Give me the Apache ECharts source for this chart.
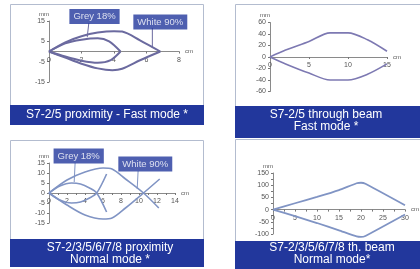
<!DOCTYPE html>
<html>
<head>
<meta charset="utf-8">
<script src="https://cdn.jsdelivr.net/npm/echarts@6.0.0/dist/echarts.min.js"></script>
<style>
  html, body { margin: 0; padding: 0; background: #fff; }
  #main { width: 420px; height: 269px; }
</style>
</head>
<body>
<div id="main"></div>
<script>
// Panel 1: S7-2/5 proximity, fast mode (x in cm, y in mm)
const p1GreyUpper  = [[0,0],[1,4],[2,5.8],[3,6.5],[3.7,5],[4.4,0]];
const p1GreyLower  = [[0,0],[1,-2.5],[2,-4.5],[3,-5.5],[3.8,-4.2],[4.4,0]];
const p1WhiteUpper = [[0,0],[1,4.5],[2,7.5],[3,9.3],[4,10],[4.5,9.8],[5.6,5.5],[6.85,0]];
const p1WhiteLower = [[0,0],[1,-3],[2,-6],[3,-8.3],[3.9,-9.2],[4.5,-8.5],[5.6,-4.3],[6.85,0]];
const p1Notes   = ['Grey 18%', 'White 90%'];
const p1NoteAt  = [[2.8, 17.2], [6.85, 14.5]];
const p1Leaders = [[[2.45, 14], [2.35, 7]], [[6.36, 11.6], [6.36, 2]]];

// Panel 2: S7-2/5 through beam, fast mode
const p2Upper = [[0,0],[2,12],[5,27],[7.7,42],[10,42],[12.5,30],[15,10]];
const p2Lower = [[0,0],[2,-12],[5,-28],[7.7,-40],[10,-40],[12.5,-30],[15,-12]];

// Panel 3: S7-2/3/5/6/7/8 proximity, normal mode
const p3GreyUpper  = [[0,0],[1.2,3.5],[2.5,5],[3.5,4.5],[4.5,2.5],[5.3,0],[6.4,-9.5]];
const p3GreyLower  = [[0,0],[1.2,-3.5],[2.5,-5],[3.5,-4.5],[4.5,-2.5],[5.3,0],[6.4,9.5]];
const p3WhiteUpper = [[0,0],[2,6.5],[4,10.5],[6,12.5],[7,12],[8.5,7],[10.5,0],[12.2,-7.5]];
const p3WhiteLower = [[0,0],[2,-6],[4,-11],[6,-13],[7,-12.5],[8.5,-7.5],[10.5,0],[12.3,7]];
const p3Notes   = ['Grey 18%', 'White 90%'];
const p3NoteAt  = [[3.3, 18.5], [10.7, 14.5]];
const p3Leaders = [[[2.9, 15], [2.8, 5.5]], [[9.9, 11], [9.8, 2]]];

// Panel 4: S7-2/3/5/6/7/8 through beam, normal mode
const p4Upper = [[0,0],[5,26],[10,52],[15,80],[19,108],[20,110],[21,106],[30,18]];
const p4Lower = [[0,0],[5,-27],[10,-55],[15,-85],[19,-110],[20,-112],[21,-108],[30,-20]];

// Captions
const captions = [
  'S7-2/5 proximity - Fast mode *',
  'S7-2/5 through beam\nFast mode *',
  'S7-2/3/5/6/7/8 proximity\nNormal mode *',
  'S7-2/3/5/6/7/8 th. beam\nNormal mode*'
];

const CAP_BLUE = '#22379c';
const FONT = 'Liberation Sans, Arial, sans-serif';

// x axis drawn through y = 0: offset (px) lifts the axis from the grid bottom
function xAx(g, max, interval, minor, offset) {
  return {
    type: 'value', gridIndex: g, min: 0, max: max, interval: interval,
    position: 'bottom', offset: offset,
    name: 'cm', nameLocation: 'end', nameGap: 6,
    nameTextStyle: { fontSize: 6, color: '#555', fontFamily: FONT },
    axisLine: { onZero: false, lineStyle: { color: '#8a8a8a', width: 1 } },
    axisTick: { show: true, length: 2, lineStyle: { color: '#777' } },
    minorTick: { show: minor, splitNumber: 2, length: 2, lineStyle: { color: '#777' } },
    axisLabel: { fontSize: 7, color: '#555', margin: 5, fontFamily: FONT },
    splitLine: { show: false }
  };
}

function yAx(g, min, max, interval, minor) {
  return {
    type: 'value', gridIndex: g, min: min, max: max, interval: interval,
    name: 'mm', nameLocation: 'end', nameGap: 4,
    nameTextStyle: { fontSize: 6, color: '#555', fontFamily: FONT, align: 'right' },
    axisLine: { show: true, onZero: false, lineStyle: { color: '#8a8a8a', width: 1 } },
    axisTick: { show: true, length: 2, lineStyle: { color: '#777' } },
    minorTick: { show: minor, splitNumber: 2, length: 2, lineStyle: { color: '#777' } },
    axisLabel: { fontSize: 7, color: '#555', margin: 4, fontFamily: FONT },
    splitLine: { show: false }
  };
}

function curve(g, data, color, width, smooth) {
  return {
    type: 'line', xAxisIndex: g, yAxisIndex: g, data: data,
    symbol: 'none', smooth: smooth, clip: false, silent: true,
    lineStyle: { color: color, width: width }, z: 3
  };
}

function notes(g, names, at) {
  return {
    type: 'scatter', xAxisIndex: g, yAxisIndex: g, symbolSize: 0, clip: false, z: 6,
    data: names.map((n, i) => ({ name: n, value: at[i] })),
    label: {
      show: true, position: 'inside', formatter: '{b}',
      color: '#fff', fontSize: 9.5, fontFamily: FONT,
      backgroundColor: CAP_BLUE, padding: [3, 4, 2, 4]
    }
  };
}

function leaders(g, segs, color) {
  return segs.map(s => ({
    type: 'line', xAxisIndex: g, yAxisIndex: g, data: s, symbol: 'none',
    clip: false, lineStyle: { color: color, width: 1 }, z: 4
  }));
}

const c1 = '#6b6a9f';
const c2 = '#7d79b2';
const c3 = '#8094c4';

const option = {
  backgroundColor: '#fff',
  animation: false,
  grid: [
    { left: 49, top: 21, width: 130, height: 61 },
    { left: 270, top: 22.5, width: 117, height: 69 },
    { left: 49, top: 163, width: 126, height: 60 },
    { left: 273, top: 173, width: 134, height: 61 }
  ],
  xAxis: [
    xAx(0, 8, 2, false, -30.5),
    xAx(1, 15, 5, false, -34.5),
    xAx(2, 14, 2, true, -30),
    xAx(3, 30, 5, true, -24.4)
  ],
  yAxis: [
    yAx(0, -15, 15, 10, false),
    yAx(1, -60, 60, 20, false),
    yAx(2, -15, 15, 5, false),
    yAx(3, -100, 150, 50, true)
  ],
  series: [
    curve(0, p1GreyUpper, c1, 2, 0.3), curve(0, p1GreyLower, c1, 2, 0.3),
    curve(0, p1WhiteUpper, c1, 2, 0.3), curve(0, p1WhiteLower, c1, 2, 0.3),
    ...leaders(0, p1Leaders, c1), notes(0, p1Notes, p1NoteAt),
    curve(1, p2Upper, c2, 1.6, 0.3), curve(1, p2Lower, c2, 1.6, 0.3),
    curve(2, p3GreyUpper, c3, 1.6, 0.3), curve(2, p3GreyLower, c3, 1.6, 0.3),
    curve(2, p3WhiteUpper, c3, 1.6, 0.3), curve(2, p3WhiteLower, c3, 1.6, 0.3),
    ...leaders(2, p3Leaders, c3), notes(2, p3Notes, p3NoteAt),
    curve(3, p4Upper, c3, 1.8, 0.15), curve(3, p4Lower, c3, 1.8, 0.15)
  ],
  graphic: [
    // panel frames
    { type: 'rect', z: 0, shape: { x: 10.5, y: 4.5, width: 193, height: 120 }, style: { fill: 'none', stroke: '#b3bccf', lineWidth: 1 } },
    { type: 'rect', z: 0, shape: { x: 235.5, y: 4.5, width: 200, height: 133 }, style: { fill: 'none', stroke: '#b3bccf', lineWidth: 1 } },
    { type: 'rect', z: 0, shape: { x: 10.5, y: 140.5, width: 193, height: 126 }, style: { fill: 'none', stroke: '#b3bccf', lineWidth: 1 } },
    { type: 'rect', z: 0, shape: { x: 235.5, y: 139.5, width: 200, height: 140 }, style: { fill: 'none', stroke: '#b3bccf', lineWidth: 1 } },
    // caption bars
    { type: 'rect', z: 20, shape: { x: 10, y: 105, width: 194, height: 20 }, style: { fill: CAP_BLUE } },
    { type: 'rect', z: 20, shape: { x: 235, y: 106, width: 185, height: 32 }, style: { fill: CAP_BLUE } },
    { type: 'rect', z: 20, shape: { x: 10, y: 239, width: 194, height: 28 }, style: { fill: CAP_BLUE } },
    { type: 'rect', z: 20, shape: { x: 235, y: 241, width: 185, height: 28 }, style: { fill: CAP_BLUE } },
    { type: 'text', z: 21, x: 107, y: 115, style: { text: captions[0], fill: '#fff', font: '12px ' + FONT, textAlign: 'center', textVerticalAlign: 'middle' } },
    { type: 'text', z: 21, x: 326, y: 121, style: { text: captions[1], fill: '#fff', font: '12px ' + FONT, lineHeight: 12, textAlign: 'center', textVerticalAlign: 'middle' } },
    { type: 'text', z: 21, x: 110, y: 254, style: { text: captions[2], fill: '#fff', font: '12px ' + FONT, lineHeight: 12, textAlign: 'center', textVerticalAlign: 'middle' } },
    { type: 'text', z: 21, x: 332, y: 254, style: { text: captions[3], fill: '#fff', font: '12px ' + FONT, lineHeight: 12, textAlign: 'center', textVerticalAlign: 'middle' } }
  ]
};

const chart = echarts.init(document.getElementById('main'), null, { renderer: 'canvas' });
chart.setOption(option);
</script>
</body>
</html>
